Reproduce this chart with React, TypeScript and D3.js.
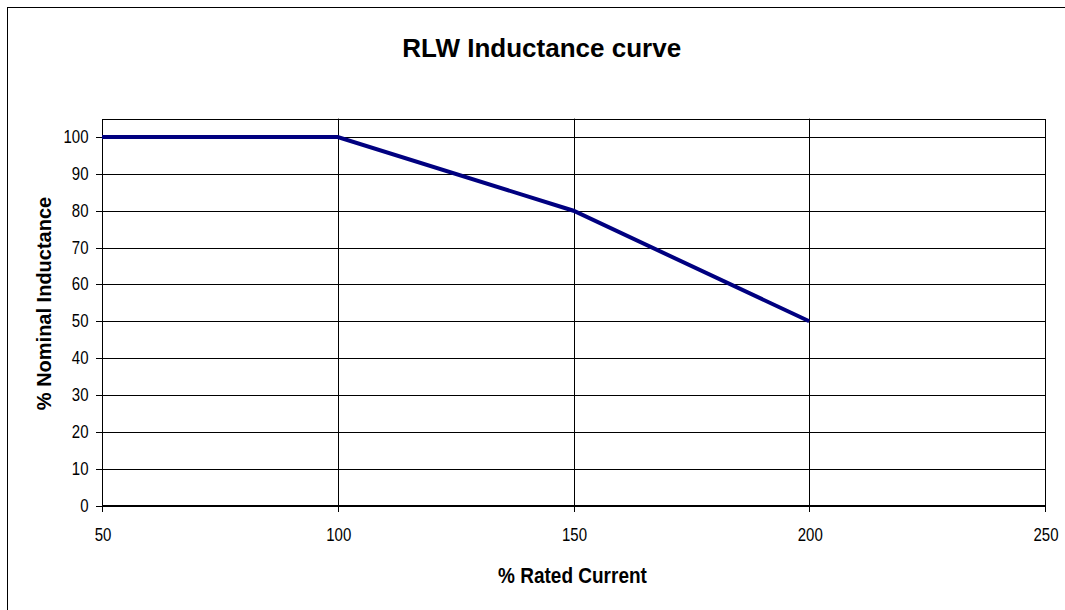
import React from "react";
import * as d3 from "d3";

const title = "RLW Inductance curve";
const xLabel = "% Rated Current";
const yLabel = "% Nominal Inductance";
const ratedCurrent = [50, 100, 150, 200];
const nominalInductance = [100, 100, 80, 50];
const xTicks = [50, 100, 150, 200, 250];
const yTicks = [0, 10, 20, 30, 40, 50, 60, 70, 80, 90, 100];

const W = 1065;
const H = 610;
const left = 102, right = 1045, top = 118.6, bottom = 505.5;

export default function App() {
  const x = d3.scaleLinear().domain([50, 250]).range([left, right]);
  const y = d3.scaleLinear().domain([0, 105]).range([bottom, top]);
  const pts = ratedCurrent.map((c, i) => [c, nominalInductance[i]] as [number, number]);
  const line = d3.line<[number, number]>().x(d => x(d[0])).y(d => y(d[1]));
  const font = "'Liberation Sans', Arial, sans-serif";
  return (
    <svg width={W} height={H} style={{ position: "absolute", left: 0, top: 0, background: "#fff" }}>
      <rect x={7.5} y={7.5} width={1100} height={700} fill="#fff" stroke="#000" strokeWidth={1} />
      <text x={541.7} y={56.5} textAnchor="middle" fontFamily={font} fontWeight="bold" fontSize={26}>{title}</text>
      {/* horizontal gridlines */}
      {yTicks.map(t => (
        <line key={"gy" + t} x1={left} x2={right} y1={Math.round(y(t)) + 0.5} y2={Math.round(y(t)) + 0.5} stroke="#000" strokeWidth={1} />
      ))}
      {/* vertical gridlines */}
      {xTicks.slice(1, -1).map(t => (
        <line key={"gx" + t} x1={Math.round(x(t)) + 0.5} x2={Math.round(x(t)) + 0.5} y1={top} y2={bottom} stroke="#000" strokeWidth={1} />
      ))}
      <rect x={left + 0.5} y={Math.round(top) + 0.5} width={right - left} height={bottom - Math.round(top) - 0.5} fill="none" stroke="#000" strokeWidth={1} />
      {/* y ticks */}
      {yTicks.map(t => (
        <g key={"ty" + t}>
          <line x1={96} x2={left} y1={Math.round(y(t)) + 0.5} y2={Math.round(y(t)) + 0.5} stroke="#000" />
          <text transform={`translate(88.5, ${y(t) + 6}) scale(1,1.17)`} textAnchor="end" fontFamily={font} fontSize={15}>{t}</text>
        </g>
      ))}
      {/* x ticks */}
      {xTicks.map(t => (
        <g key={"tx" + t}>
          <line x1={Math.round(x(t)) + 0.5} x2={Math.round(x(t)) + 0.5} y1={bottom} y2={512} stroke="#000" />
          <text transform={`translate(${x(t) + 1}, 541) scale(1,1.17)`} textAnchor="middle" fontFamily={font} fontSize={15}>{t}</text>
        </g>
      ))}
      <path d={line(pts) || ""} fill="none" stroke="#000080" strokeWidth={4} strokeLinejoin="miter" />
      <text transform={`translate(572.5, 583) scale(1,1.15)`} textAnchor="middle" fontFamily={font} fontWeight="bold" fontSize={19}>{xLabel}</text>
      <text transform={`translate(50.5, 303.5) rotate(-90)`} textAnchor="middle" fontFamily={font} fontWeight="bold" fontSize={20}>{yLabel}</text>
    </svg>
  );
}
